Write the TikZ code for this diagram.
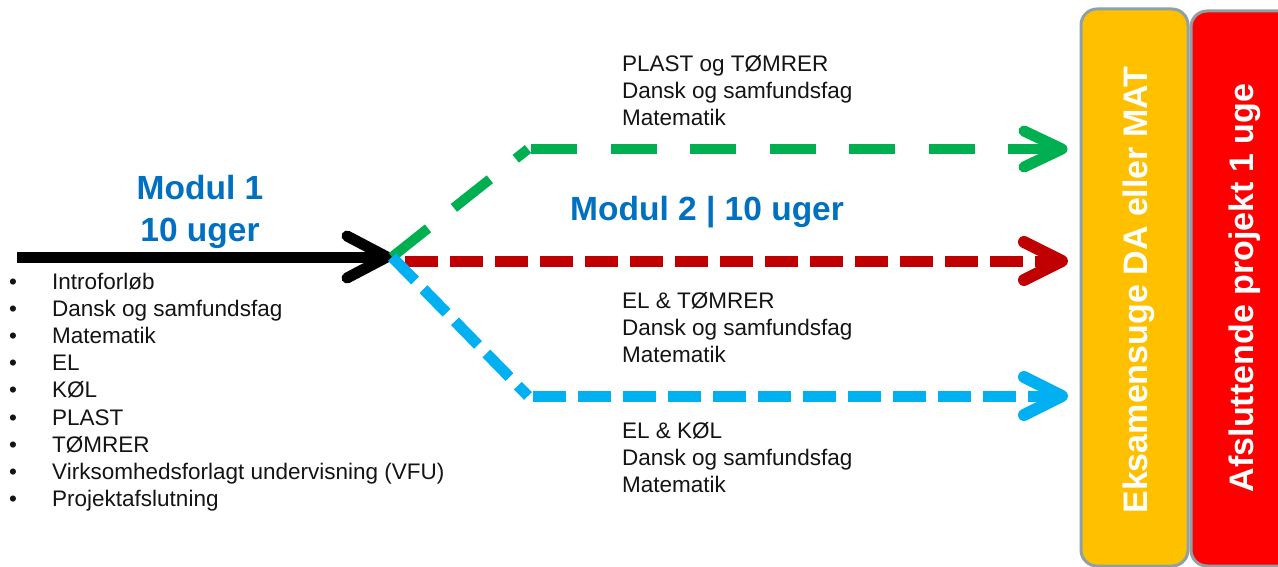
\documentclass[tikz,border=0pt]{standalone}
\usepackage{fontspec}
\setmainfont{Liberation Sans}
\usetikzlibrary{calc}
\definecolor{mblue}{RGB}{0,112,192}
\definecolor{lgreen}{RGB}{0,176,80}
\definecolor{dred}{RGB}{192,0,0}
\definecolor{lblue}{RGB}{0,176,240}
\definecolor{boxorange}{RGB}{255,192,0}
\definecolor{boxred}{RGB}{255,0,0}
\definecolor{boxborder}{RGB}{143,160,166}
\definecolor{txt}{RGB}{20,20,20}
\begin{document}
\begin{tikzpicture}[x=1pt,y=-1pt,
  body/.style={font=\fontsize{22.5}{26}\selectfont, text=txt, inner sep=0pt, anchor=base west},
  modul/.style={font=\bfseries\fontsize{33.5}{38}\selectfont, text=mblue, inner sep=0pt},
  vtext/.style={font=\bfseries\fontsize{34}{38}\selectfont, text=white, inner sep=0pt, rotate=90, anchor=base},
  chev/.style={line width=#1, line cap=round, line join=round},
  panel/.style={draw=boxborder, line width=3pt, rounded corners=16pt},
]
\useasboundingbox (0,0) rectangle (1278,567);
\fill[white] (0,0) rectangle (1278,567);
% right panels
\begin{scope}
\clip (0,0) rectangle (1278,567);
\draw[panel, fill=boxorange] (1081,9) rectangle (1188,566);
\draw[panel, fill=boxred] (1191,11) rectangle (1300,566);
\end{scope}
\node[vtext] (exam) at (1147,290) {Eksamensuge DA eller MAT};
\node[vtext] (proj) at (1253,288) {Afsluttende projekt 1 uge};
% coordinates
\coordinate (start) at (17,257);
\coordinate (hub) at (387,257);
\coordinate (g0) at (392,257);
\coordinate (g1) at (528,149);
\coordinate (g2) at (1062,149);
\coordinate (r0) at (405,261);
\coordinate (r1) at (1062,261);
\coordinate (b0) at (392,257);
\coordinate (b1) at (528,396);
\coordinate (b2) at (1062,396);
% black arrow
\draw[black, line width=11pt] (start) -- (hub);
\draw[black, chev=11pt] ($(hub)+(-40,-21)$) -- (hub) -- ($(hub)+(-40,21)$);
% green
\draw[lgreen, line width=10pt, dash pattern=on 46pt off 33pt] (g0) -- (g1);
\draw[lgreen, line width=10pt, dash pattern=on 46pt off 33.5pt, dash phase=76.5pt] (g1) -- (g2);
\draw[lgreen, chev=11pt] ($(g2)+(-38,-18)$) -- (g2) -- ($(g2)+(-38,18)$);
% red
\draw[dred, line width=11pt, dash pattern=on 33pt off 12pt] (r0) -- (r1);
\draw[dred, chev=12pt] ($(r1)+(-38,-19)$) -- (r1) -- ($(r1)+(-38,19)$);
% blue
\draw[lblue, line width=11pt, dash pattern=on 33pt off 12pt] (b0) -- (b1);
\draw[lblue, line width=11pt, dash pattern=on 33pt off 12pt, dash phase=40pt] (b1) -- (b2);
\draw[lblue, chev=12pt] ($(b2)+(-38,-19)$) -- (b2) -- ($(b2)+(-38,19)$);
% module titles
\node[modul, anchor=base] (m1a) at (200,200) {Modul 1};
\node[modul, anchor=base] (m1b) at (200,241) {10 uger};
\node[modul, anchor=base west] (m2) at (570,220) {Modul 2 | 10 uger};
% left list
\foreach \t [count=\i] in {Introforløb, Dansk og samfundsfag, Matematik, EL, KØL, PLAST, TØMRER, Virksomhedsforlagt undervisning (VFU), Projektafslutning}{
  \node[body] (bul\i) at (9,{289+27.2*(\i-1)}) {•};
  \node[body] (item\i) at (52,{289+27.2*(\i-1)}) {\t};
}
% branch texts
\node[body] (p1) at (622,72) {PLAST og TØMRER};
\node[body] (p2) at (622,99) {Dansk og samfundsfag};
\node[body] (p3) at (622,126) {Matematik};
\node[body] (e1) at (622,308) {EL \& TØMRER};
\node[body] (e2) at (622,335) {Dansk og samfundsfag};
\node[body] (e3) at (622,362) {Matematik};
\node[body] (k1) at (622,438) {EL \& KØL};
\node[body] (k2) at (622,465) {Dansk og samfundsfag};
\node[body] (k3) at (622,492) {Matematik};
\end{tikzpicture}
\end{document}
